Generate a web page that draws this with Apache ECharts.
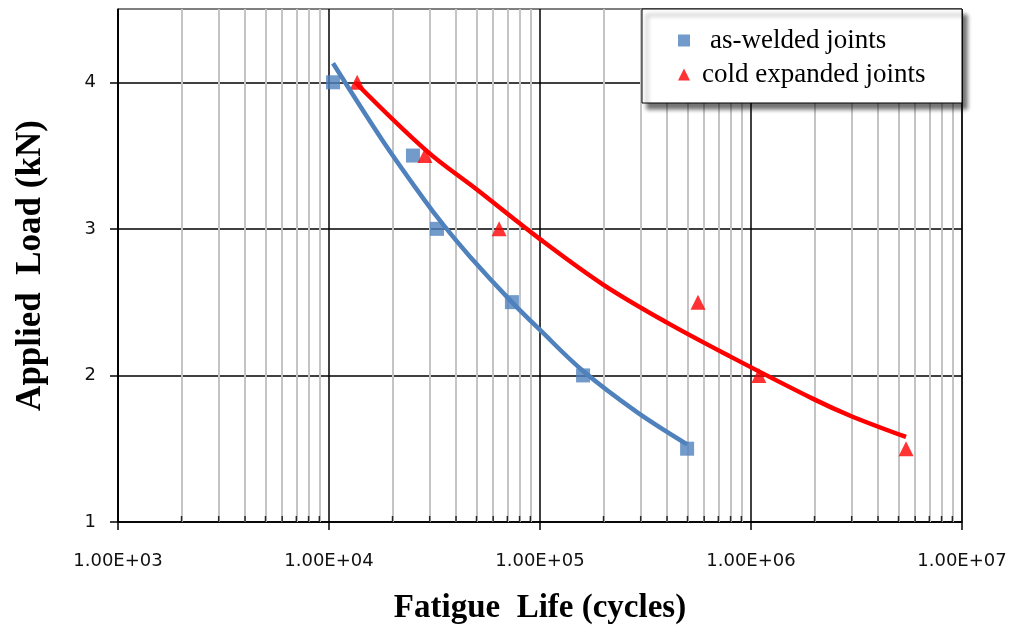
<!DOCTYPE html>
<html>
<head>
<meta charset="utf-8">
<script src="https://cdn.jsdelivr.net/npm/echarts@6/dist/echarts.min.js"></script>
<style>
  html, body { margin: 0; padding: 0; background: #fff; }
  #chart { width: 1011px; height: 635px; }
</style>
</head>
<body>
<div id="chart"></div>
<script>
// measured points (fatigue life in cycles, applied load in kN)
var awLife = [10450, 25000, 32500, 73600, 160000, 498000];
var awLoad = [4, 3.5, 3, 2.5, 2, 1.5];
var ceLife = [13600, 28500, 64000, 561000, 1090000, 5430000];
var ceLoad = [4, 3.5, 3, 2.5, 2, 1.5];

// trend lines
var awTrendLife = [10450, 18000, 27900, 34700, 46600, 73600, 100000, 160000, 288000, 498000];
var awTrendLoad = [4.13, 3.60, 3.21, 3.03, 2.81, 2.50, 2.31, 2.03, 1.75, 1.53];
var ceTrendLife = [13300, 29100, 50000, 100000, 199000, 400000, 795000, 1970000, 3010000, 5430000];
var ceTrendLoad = [4.0, 3.53, 3.27, 2.93, 2.62, 2.36, 2.13, 1.84, 1.72, 1.58];

var yTicks = [1, 2, 3, 4];
var minorLife = [];
[1e3, 1e4, 1e5, 1e6].forEach(function (d) {
  [2, 3, 4, 5, 6, 7, 8, 9].forEach(function (m) { minorLife.push(d * m); });
});

function pairs(xs, ys) {
  return xs.map(function (x, i) { return [x, ys[i]]; });
}

function sci(v) {
  var e = Math.round(Math.log10(v));
  var m = v / Math.pow(10, e);
  var s = e < 0 ? '-' : '+';
  var ae = Math.abs(e);
  return m.toFixed(2) + 'E' + s + (ae < 10 ? '0' : '') + ae;
}

var chart = echarts.init(document.getElementById('chart'));
var option = {
  animation: false,
  grid: {
    left: 118, right: 49, top: 9, bottom: 113,
    show: true, borderColor: '#000', borderWidth: 1
  },
  graphic: [{
    type: 'rect',
    z: 10,
    shape: { x: 642, y: 9, width: 320, height: 94 },
    style: {
      fill: '#fff', stroke: '#000', lineWidth: 1,
      shadowBlur: 4, shadowOffsetX: 5, shadowOffsetY: 6,
      shadowColor: 'rgba(0,0,0,0.55)'
    }
  }],
  legend: {
    orient: 'vertical',
    z: 11,
    left: 673, top: 22,
    itemGap: 7,
    itemWidth: 12, itemHeight: 12,
    textStyle: { fontFamily: 'Liberation Serif', fontSize: 27, color: '#000' },
    data: [
      { name: 'as-welded joints', icon: 'rect', textStyle: { padding: [0, 0, 0, 15] } },
      { name: 'cold expanded joints', icon: 'triangle', textStyle: { padding: [0, 0, 0, 7] } }
    ]
  },
  xAxis: {
    type: 'log', logBase: 10, min: 1000, max: 10000000,
    name: 'Fatigue  Life (cycles)',
    nameLocation: 'middle', nameGap: 70,
    nameTextStyle: { fontFamily: 'Liberation Serif', fontWeight: 'bold', fontSize: 33, color: '#000' },
    axisLine: { onZero: false, lineStyle: { color: '#000', width: 1.5 } },
    axisTick: { length: 8, lineStyle: { color: '#000', width: 1.5 } },
    axisLabel: {
      margin: 30, fontFamily: 'DejaVu Sans', fontSize: 18, color: '#111',
      formatter: sci
    },
    splitLine: { show: true, lineStyle: { color: '#000', width: 1.5 } }
  },
  yAxis: {
    type: 'value', min: 1, max: 4.5, interval: 1,
    name: 'Applied  Load (kN)',
    nameLocation: 'middle', nameGap: 70,
    nameTextStyle: { fontFamily: 'Liberation Serif', fontWeight: 'bold', fontSize: 35, color: '#000' },
    axisLine: { show: true, lineStyle: { color: '#000', width: 1.5 } },
    axisTick: { show: true, length: 8, customValues: yTicks, lineStyle: { color: '#000', width: 1.5 } },
    axisLabel: {
      margin: 22, fontFamily: 'DejaVu Sans', fontSize: 18, color: '#111',
      customValues: yTicks
    },
    splitLine: { show: true, lineStyle: { color: '#000', width: 1.5 } }
  },
  series: [
    {
      name: 'minor grid',
      type: 'scatter',
      silent: true,
      symbol: 'rect',
      symbolSize: [1.5, 6],
      symbolOffset: [0, -3],
      itemStyle: { color: '#000' },
      data: minorLife.map(function (v) { return [v, 1]; }),
      z: 1,
      markLine: {
        silent: true,
        symbol: 'none',
        z: 1,
        label: { show: false },
        lineStyle: { color: '#c4c4c4', width: 2, type: 'solid' },
        data: minorLife.map(function (v) { return { xAxis: v }; })
      }
    },
    {
      name: 'as-welded joints',
      type: 'scatter',
      symbol: 'rect',
      symbolSize: 14,
      itemStyle: { color: '#4F81BD' },
      data: pairs(awLife, awLoad),
      z: 3
    },
    {
      name: 'cold expanded joints',
      type: 'scatter',
      symbol: 'triangle',
      symbolSize: 15,
      itemStyle: { color: '#FF0000' },
      data: pairs(ceLife, ceLoad),
      z: 3
    },
    {
      name: 'as-welded trend',
      type: 'line',
      smooth: 0.35,
      showSymbol: false,
      lineStyle: { color: '#4F81BD', width: 4.5 },
      data: pairs(awTrendLife, awTrendLoad),
      z: 4
    },
    {
      name: 'cold expanded trend',
      type: 'line',
      smooth: 0.35,
      showSymbol: false,
      lineStyle: { color: '#FF0000', width: 4.5 },
      data: pairs(ceTrendLife, ceTrendLoad),
      z: 4
    }
  ]
};

chart.setOption(option);

window.onresize = chart.resize;
</script>
</body>
</html>
